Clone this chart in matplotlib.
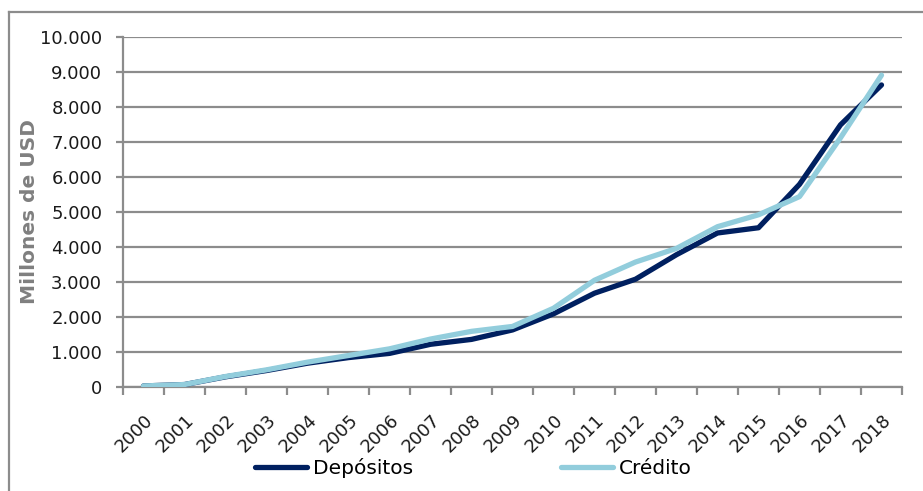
import matplotlib
matplotlib.use("Agg")
import matplotlib.pyplot as plt
from matplotlib.lines import Line2D
from matplotlib.ticker import FuncFormatter, FixedLocator

plt.rcParams['font.family'] = ['DejaVu Sans']

years = [str(y) for y in range(2000, 2019)]
depositos = [30, 70, 290, 470, 680, 840, 960, 1220, 1360, 1630, 2090, 2680, 3080, 3780, 4400, 4550, 5790, 7490, 8630]
credito = [30, 70, 300, 490, 710, 900, 1090, 1370, 1590, 1730, 2250, 3050, 3570, 3960, 4580, 4920, 5440, 7120, 8910]
y_ticks = list(range(0, 10001, 1000))

grid_col = '#8c8c8c'
dep_col = '#002060'
cre_col = '#92cddc'
txt_col = '#1a1a1a'

fig = plt.figure(figsize=(9.23, 4.91), dpi=100)
ax = fig.add_axes([123/923, 1-387/491, (902-123)/923, (387-37)/491])

x = list(range(len(years)))
ax.plot(x, depositos, color=dep_col, lw=3.8, label='Depósitos', solid_capstyle='round', zorder=3)
ax.plot(x, credito, color=cre_col, lw=3.8, label='Crédito', solid_capstyle='round', zorder=4)

ax.set_xlim(-0.5, len(years) - 0.5)
ax.set_ylim(0, 10000)
ax.set_yticks(y_ticks)
ax.yaxis.set_major_formatter(FuncFormatter(lambda v, p: f"{int(v):,}".replace(',', '.')))
ax.grid(axis='y', color=grid_col, lw=1.6)
ax.set_axisbelow(True)

ax.set_xticks(x)
ax.set_xticklabels(years, rotation=45, ha='right', rotation_mode='anchor')
ax.xaxis.set_minor_locator(FixedLocator([i - 0.5 for i in range(len(years) + 1)]))
ax.tick_params(axis='x', which='major', length=0, pad=17, labelsize=13, labelcolor=txt_col)
ax.tick_params(axis='x', which='minor', length=6, width=1.6, color=grid_col, direction='out')
ax.tick_params(axis='y', length=5, width=1.6, color=grid_col, labelsize=13, labelcolor=txt_col, pad=10)

for s in ['top', 'right']:
    ax.spines[s].set_visible(False)
for s in ['left', 'bottom']:
    ax.spines[s].set_color(grid_col)
    ax.spines[s].set_linewidth(1.6)

ax.set_ylabel('Millones de USD', color='#7f7f7f', fontweight='bold', fontsize=14.5, labelpad=1)

fig.legend(loc='center', bbox_to_anchor=(0.5 + 12/923, 1-468/491), ncol=2, frameon=False,
           fontsize=14.5, handlelength=2.6, handletextpad=0.3, columnspacing=7.3)

# chart frame
fig.add_artist(Line2D([9/923, 9/923], [0, 1-12/491], color=grid_col, lw=1.6, transform=fig.transFigure))
fig.add_artist(Line2D([9/923, 1], [1-12/491, 1-12/491], color=grid_col, lw=1.6, transform=fig.transFigure))

fig.savefig('out.png', dpi=100)
